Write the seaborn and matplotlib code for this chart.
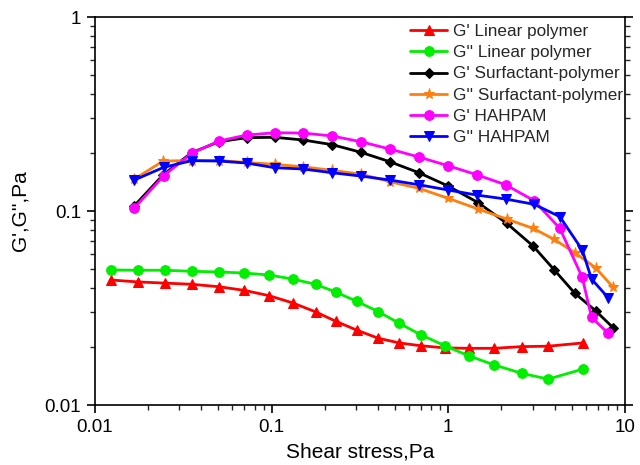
import numpy as np
import pandas as pd
import matplotlib
matplotlib.use("Agg")
import matplotlib.pyplot as plt
import seaborn as sns
from matplotlib.ticker import LogLocator, NullFormatter, FixedLocator, FixedFormatter

# ---- data ----
x_linear = [0.0123, 0.0175, 0.0249, 0.0356, 0.0504, 0.070, 0.0968, 0.1315, 0.1775, 0.231,
            0.304, 0.401, 0.527, 0.70, 0.957, 1.31, 1.82, 2.60, 3.68, 5.80]
g1_linear = [0.0441, 0.0431, 0.0425, 0.0419, 0.0407, 0.0390, 0.0366, 0.0336, 0.0302, 0.0270,
             0.0243, 0.0221, 0.0209, 0.0202, 0.0197, 0.0196, 0.0196, 0.0200, 0.0201, 0.0209]
g2_linear = [0.0497, 0.0495, 0.0495, 0.0489, 0.0485, 0.0479, 0.0468, 0.0446, 0.0419, 0.0382,
             0.0342, 0.0303, 0.0264, 0.0230, 0.0202, 0.0179, 0.0161, 0.01457, 0.0136, 0.01534]

x_surf = [0.0167, 0.0243, 0.0352, 0.0504, 0.0721, 0.104, 0.151, 0.220, 0.320, 0.467,
          0.682, 0.998, 1.476, 2.14, 3.02, 3.98, 5.20, 6.82, 8.58]
g1_surf = [0.1064, 0.1535, 0.1998, 0.2276, 0.2388, 0.2399, 0.2323, 0.2198, 0.2008, 0.1795,
           0.1575, 0.1345, 0.1104, 0.0865, 0.0660, 0.0497, 0.0377, 0.0306, 0.0250]
g2_surf = [0.146, 0.181, 0.182, 0.182, 0.178, 0.174, 0.169, 0.162, 0.155, 0.1416,
           0.1309, 0.1163, 0.1024, 0.0909, 0.0814, 0.0714, 0.0610, 0.0510, 0.0404]

x_hah = [0.0167, 0.0245, 0.0352, 0.0504, 0.0721, 0.104, 0.151, 0.220, 0.320, 0.467,
         0.682, 0.998, 1.445, 2.11, 3.06, 4.28, 5.73, 6.47, 8.04]
g1_hah = [0.1036, 0.152, 0.1983, 0.2295, 0.2463, 0.2532, 0.2523, 0.2436, 0.2276, 0.2087,
          0.1897, 0.1712, 0.1539, 0.1366, 0.1130, 0.0814, 0.0455, 0.0283, 0.0234]
g2_hah = [0.1445, 0.168, 0.1817, 0.181, 0.1767, 0.1672, 0.1646, 0.1575, 0.1514, 0.1445,
          0.1366, 0.1283, 0.1209, 0.1153, 0.1083, 0.0935, 0.0630, 0.0446, 0.0357]

series_names = ["G' Linear polymer", "G'' Linear polymer", "G' Surfactant-polymer",
                "G'' Surfactant-polymer", "G' HAHPAM", "G'' HAHPAM"]
series_x = [x_linear, x_linear, x_surf, x_surf, x_hah, x_hah]
series_y = [g1_linear, g2_linear, g1_surf, g2_surf, g1_hah, g2_hah]
colors = ["#ff0000", "#00ee00", "#000000", "#ff7f0e", "#ff00ff", "#0000ff"]
markers = ["^", "o", "D", "*", "o", "v"]
msizes = [7, 7, 5, 8, 7, 7]

x_ticks = [0.01, 0.1, 1, 10]
x_ticklabels = ["0.01", "0.1", "1", "10"]
y_ticks = [0.01, 0.1, 1]
y_ticklabels = ["0.01", "0.1", "1"]

sns.set_theme(style="white")
plt.rcParams['font.family'] = ['Liberation Sans', 'DejaVu Sans']

fig = plt.figure(figsize=(6.4, 4.65), dpi=100)
ax = fig.add_axes([0.1484, 0.129, 0.8281, 0.8344])

for name, xs, ys, c, m, ms in zip(series_names, series_x, series_y, colors, markers, msizes):
    df = pd.DataFrame({"x": xs, "y": ys})
    sns.lineplot(data=df, x="x", y="y", ax=ax, color=c, marker=m, markersize=ms,
                 markeredgecolor=c, linewidth=2, label=name, sort=False)

ax.set_xscale("log")
ax.set_yscale("log")
ax.set_xlim(0.01, 10)
ax.set_ylim(0.01, 1)

ax.xaxis.set_major_locator(FixedLocator(x_ticks))
ax.xaxis.set_major_formatter(FixedFormatter(x_ticklabels))
ax.yaxis.set_major_locator(FixedLocator(y_ticks))
ax.yaxis.set_major_formatter(FixedFormatter(y_ticklabels))
ax.xaxis.set_minor_locator(LogLocator(base=10, subs=np.arange(2, 10)))
ax.yaxis.set_minor_locator(LogLocator(base=10, subs=np.arange(2, 10)))
ax.xaxis.set_minor_formatter(NullFormatter())
ax.yaxis.set_minor_formatter(NullFormatter())

ax.tick_params(axis="both", which="major", direction="out", length=6, width=1.2,
               labelsize=13.5, colors="black", bottom=True, left=True, right=True, top=False,
               labelright=False, pad=4)
ax.tick_params(axis="both", which="minor", direction="out", length=3.5, width=1,
               bottom=True, left=True, right=True, top=False)
for s in ax.spines.values():
    s.set_color("black")
    s.set_linewidth(1.2)

ax.set_xlabel("Shear stress,Pa", fontsize=15, color="black", labelpad=5)
ax.set_ylabel("G',G'',Pa", fontsize=15, color="black", labelpad=11)

leg = ax.legend(loc="upper right", frameon=False, fontsize=12.3, handlelength=2.2,
                labelspacing=0.37, borderaxespad=0.0, handletextpad=0.35,
                bbox_to_anchor=(1.01, 1.0))

fig.savefig("out.png", dpi=100)
